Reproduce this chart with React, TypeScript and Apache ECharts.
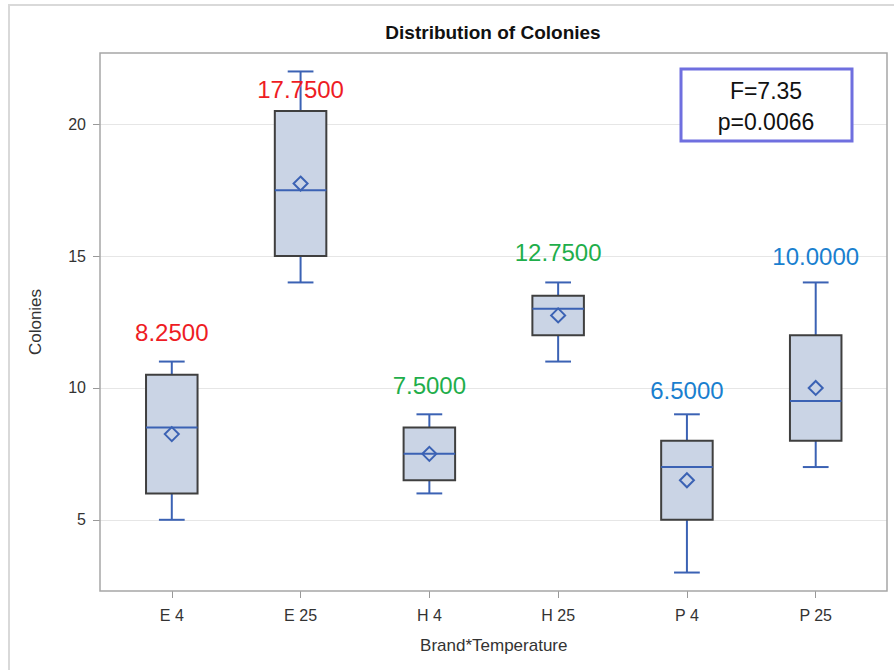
import React, { useEffect, useRef } from "react";
import * as echarts from "echarts";

const categories = ["E 4", "E 25", "H 4", "H 25", "P 4", "P 25"];
const whiskerLow = [5, 14, 6, 11, 3, 7];
const q1 = [6, 15, 6.5, 12, 5, 8];
const median = [8.5, 17.5, 7.5, 13, 7, 9.5];
const q3 = [10.5, 20.5, 8.5, 13.5, 8, 12];
const whiskerHigh = [11, 22, 9, 14, 9, 14];
const means = [8.25, 17.75, 7.5, 12.75, 6.5, 10];
const meanLabelAt = [12.1, 21.3, 10.1, 15.15, 9.9, 15.0];
const labelColors = ["#ee1c24", "#ee1c24", "#1fae4b", "#1fae4b", "#1a7fcf", "#1a7fcf"];
const yTicks = [5, 10, 15, 20];
const statLines = ["F=7.35", "p=0.0066"];
const chartTitle = "Distribution of Colonies";
const xName = "Brand*Temperature";
const yName = "Colonies";

const FONT = "'Liberation Sans', Arial, sans-serif";
const BLUE = "#3b62b4";

const renderBox = (_params: any, api: any) => {
  const i = api.value(0);
  const lo = api.coord([i, api.value(1)]);
  const b1 = api.coord([i, api.value(2)]);
  const md = api.coord([i, api.value(3)]);
  const b3 = api.coord([i, api.value(4)]);
  const hi = api.coord([i, api.value(5)]);
  const band = api.size([1, 0])[0];
  const half = band * 0.2;
  const cap = band * 0.1;
  const cx = lo[0];
  const whisk = { stroke: BLUE, lineWidth: 2 };
  return {
    type: "group",
    children: [
      { type: "line", shape: { x1: cx, y1: lo[1], x2: cx, y2: b1[1] }, style: whisk },
      { type: "line", shape: { x1: cx, y1: b3[1], x2: cx, y2: hi[1] }, style: whisk },
      { type: "line", shape: { x1: cx - cap, y1: lo[1], x2: cx + cap, y2: lo[1] }, style: whisk },
      { type: "line", shape: { x1: cx - cap, y1: hi[1], x2: cx + cap, y2: hi[1] }, style: whisk },
      {
        type: "rect",
        shape: { x: cx - half, y: b3[1], width: half * 2, height: b1[1] - b3[1] },
        style: { fill: "#cad4e5", stroke: "#3f3f3f", lineWidth: 2 },
      },
      { type: "line", shape: { x1: cx - half, y1: md[1], x2: cx + half, y2: md[1] }, style: whisk },
    ],
  };
};

export default function App() {
  const ref = useRef<HTMLDivElement>(null);
  useEffect(() => {
    if (!ref.current) return;
    const chart = echarts.init(ref.current, undefined, { renderer: "svg" });
    const boxData = categories.map((_, i) => [i, whiskerLow[i], q1[i], median[i], q3[i], whiskerHigh[i]]);
    chart.setOption({
      animation: false,
      backgroundColor: "#ffffff",
      textStyle: { fontFamily: FONT },
      grid: [
        { left: 100, right: 7, top: 53, bottom: 79 },
        { left: 107.4, right: 13.9, top: 53, bottom: 79 },
      ],
      xAxis: [
        { gridIndex: 0, type: "value", min: 0, max: 1, show: false },
        {
          gridIndex: 1,
          type: "category",
          data: categories,
          axisLine: { show: false },
          axisTick: { show: true, alignWithLabel: true, length: 7, lineStyle: { color: "#999999" } },
          axisLabel: { margin: 16, fontSize: 16, color: "#333333", fontFamily: FONT },
          name: xName,
          nameLocation: "middle",
          nameGap: 46,
          nameTextStyle: { fontSize: 17, color: "#333333", fontFamily: FONT },
          splitLine: { show: false },
        },
      ],
      yAxis: [
        {
          gridIndex: 0,
          type: "value",
          min: 2.3,
          max: 22.7,
          axisLine: { show: false },
          axisTick: { show: true, length: 7, customValues: yTicks, lineStyle: { color: "#999999" } },
          axisLabel: { customValues: yTicks, margin: 14, fontSize: 16, color: "#333333", fontFamily: FONT },
          splitLine: { show: true, lineStyle: { color: "#e6e6e6", width: 1 } },
          name: yName,
          nameLocation: "middle",
          nameGap: 56,
          nameTextStyle: { fontSize: 17, color: "#333333", fontFamily: FONT },
        },
        { gridIndex: 1, type: "value", min: 2.3, max: 22.7, show: false, splitLine: { show: false } },
      ],
      series: [
        {
          type: "custom",
          xAxisIndex: 1,
          yAxisIndex: 1,
          renderItem: renderBox,
          encode: { x: 0, y: [1, 2, 3, 4, 5] },
          data: boxData,
          z: 3,
        },
        {
          type: "scatter",
          xAxisIndex: 1,
          yAxisIndex: 1,
          symbol: "diamond",
          symbolSize: 14,
          itemStyle: { color: "rgba(0,0,0,0)", borderColor: BLUE, borderWidth: 2, opacity: 1 },
          data: means.map((m, i) => [i, m]),
          z: 4,
        },
        {
          type: "scatter",
          xAxisIndex: 1,
          yAxisIndex: 1,
          symbolSize: 1,
          itemStyle: { color: "rgba(0,0,0,0)", opacity: 1 },
          data: meanLabelAt.map((v, i) => ({
            value: [i, v],
            label: { color: labelColors[i] },
          })),
          label: {
            show: true,
            position: "inside",
            fontSize: 24,
            fontFamily: FONT,
            formatter: (p: any) => means[p.dataIndex].toFixed(4),
          },
          z: 5,
        },
      ],
      graphic: [
        {
          type: "rect",
          z: 100,
          shape: { x: 9, y: 5, width: 900, height: 700 },
          style: { fill: "none", stroke: "#d9d9d9", lineWidth: 2 },
        },
        {
          type: "rect",
          z: 100,
          shape: { x: 100, y: 53, width: 787, height: 538 },
          style: { fill: "none", stroke: "#a6a6a6", lineWidth: 1.5 },
        },
        {
          type: "text",
          z: 100,
          x: 493,
          y: 32,
          style: {
            text: chartTitle,
            align: "center",
            verticalAlign: "middle",
            fontSize: 19,
            fontWeight: "bold",
            fontFamily: FONT,
            fill: "#111111",
          },
        },
        {
          type: "rect",
          z: 100,
          shape: { x: 681, y: 69, width: 171, height: 72 },
          style: { fill: "#ffffff", stroke: "#6f6fdf", lineWidth: 3 },
        },
        {
          type: "text",
          z: 101,
          x: 766,
          y: 91,
          style: { text: statLines[0], align: "center", verticalAlign: "middle", fontSize: 23, fontFamily: FONT, fill: "#111111" },
        },
        {
          type: "text",
          z: 101,
          x: 766,
          y: 122,
          style: { text: statLines[1], align: "center", verticalAlign: "middle", fontSize: 23, fontFamily: FONT, fill: "#111111" },
        },
      ],
    });
    return () => chart.dispose();
  }, []);
  return (
    <div
      ref={ref}
      style={{ position: "fixed", left: 0, top: 0, width: 894, height: 670, background: "#fff" }}
    />
  );
}
